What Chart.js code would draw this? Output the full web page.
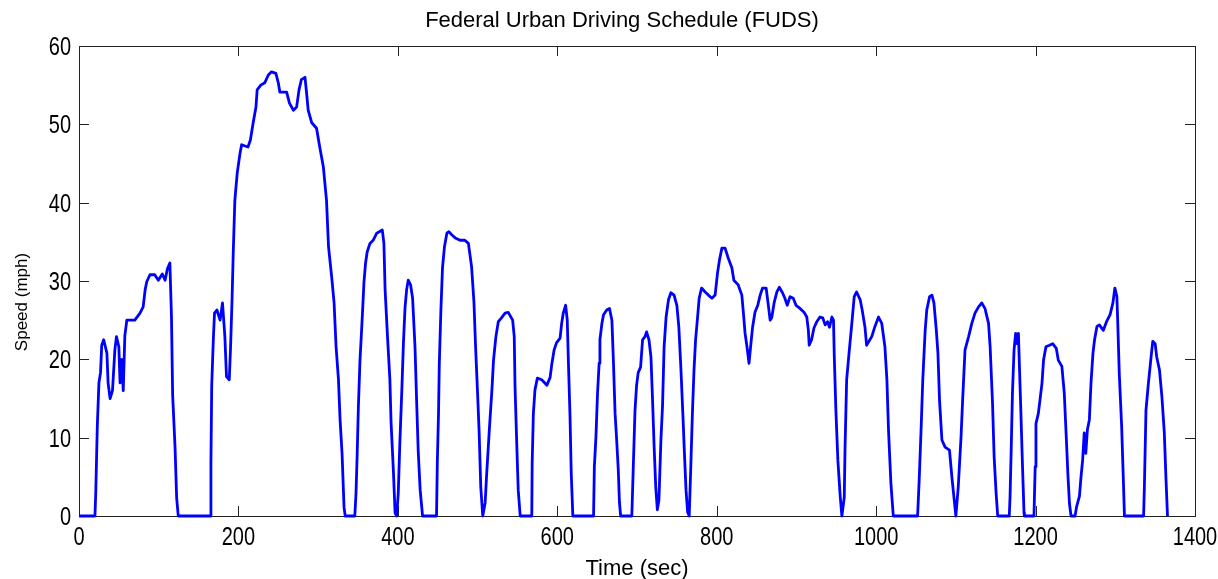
<!DOCTYPE html>
<html>
<head>
<meta charset="utf-8">
<title>FUDS</title>
<script src="https://cdn.jsdelivr.net/npm/chart.js@4.4.1/dist/chart.umd.min.js"></script>
<style>
  html, body { margin: 0; padding: 0; background: #fff; }
  #fuds { display: block; }
</style>
</head>
<body>
<canvas id="fuds" width="1218" height="579"></canvas>
<script>
// speed trace (seconds, mph)
const timeSec = [
  0, 20, 21, 23, 25, 27, 28.5, 31, 35, 36.5, 39, 42, 45, 47, 50, 51.5, 53.5, 55.5, 57.5, 60,
  70, 76.5, 80.5, 83, 85, 89, 95, 99.5, 104.5, 108, 111, 114, 116, 117.5, 120.5, 122.5, 124.5,
  164.5, 165.5, 166.5, 168.5, 170, 173, 177, 180, 183, 185, 188.5, 190, 192, 193.5, 195.5, 198.5,
  202, 204, 212, 215, 218.5, 222, 223.5, 228, 233, 237.5, 241.5, 247, 250, 252, 260.5, 264, 269,
  273, 276, 279, 283.5, 285.5, 287.5, 292, 298, 302, 306.5, 310.5, 313, 317, 320, 322.5, 325.5,
  327.5, 330, 332.5, 334,
  346, 347.5, 349, 350.5, 352.5, 354.5, 356, 357.5, 359.5, 361.5, 365, 369, 373.5, 380.5, 382.5,
  384, 387, 390, 391.5, 394.5, 396.5, 398.5, 400.5, 402.5, 405, 407, 409, 411, 413, 416, 418.5,
  421.5, 423.5, 425.5, 428, 431,
  448.5, 449.5, 451, 452, 454, 456, 458.5, 461.5, 464, 467.5, 472, 478, 484, 488.5, 492.5, 495.5,
  497.5, 500, 502, 504, 506.5, 509.5, 511.5, 515, 518, 520, 523, 526, 530, 534.5, 538.5, 544,
  546, 547, 549, 551, 553.5,
  568, 568.5, 570, 572, 575, 580.5, 587, 591, 593, 596, 599, 603.5, 605.5, 607.5, 610.5, 612.5,
  614, 616, 617.5, 619.5,
  645.5, 646.5, 648.5, 650.5, 652.5, 653.5, 656, 658, 662, 665.5, 668.5, 670.5, 672.5, 674.5,
  676.5, 678, 679.5,
  693.5, 695.5, 697.5, 699.5, 701.5, 704.5, 707, 710, 712, 715, 717.5, 719.5, 721.5, 723.5, 725.5,
  727.5, 730, 732, 734, 736.5, 739.5, 742.5, 746.5, 750, 752.5, 755, 757.5, 759.5, 761.5, 763.5,
  765.5, 767.5, 769.5, 771.5, 773.5, 776, 778, 781, 785.5, 789.5, 794, 798, 801, 803.5, 806.5,
  810.5, 814.5, 819, 821.5, 827, 831.5, 833.5, 835.5, 838.5, 840.5, 842.5, 845, 848, 851.5, 854.5,
  857.5, 862, 865, 867, 869, 872, 875.5, 878.5, 882.5, 885.5, 888.5, 892, 896, 899.5, 904.5, 909.5,
  913, 915, 916, 919, 922, 925.5, 929.5, 933, 936, 939, 941.5, 944.5, 946.5, 947.5, 949.5, 952,
  955, 957, 960, 961, 963, 966, 969.5, 972.5, 975.5, 980, 982.5, 986, 988, 994.5, 998.5, 1003,
  1007, 1011, 1013.5, 1015.5, 1018.5, 1021.5,
  1052, 1054, 1056.5, 1058.5, 1061.5, 1063.5, 1067, 1070, 1072.5, 1075.5, 1077.5, 1079.5, 1082.5,
  1086.5, 1092, 1095, 1098, 1100, 1103, 1106.5, 1108.5, 1111.5, 1116, 1120, 1124, 1128.5, 1132.5,
  1136.5, 1141, 1143, 1146, 1148, 1150.5, 1152.5,
  1167, 1168, 1169.5, 1171, 1173, 1175, 1177, 1178.5, 1179.5, 1181.5, 1183.5, 1185.5, 1186,
  1198, 1199.5, 1200.5, 1203.5, 1208, 1210, 1213, 1217.5, 1221.5, 1226, 1228.5, 1233, 1236,
  1238.5, 1240.5, 1242.5, 1244.5,
  1249.5, 1251.5, 1255, 1257, 1259, 1261, 1263, 1265, 1267.5, 1269.5, 1272, 1274, 1277, 1280,
  1285, 1289, 1293.5, 1297, 1299.5, 1302, 1303, 1305, 1308, 1310, 1311.5,
  1335.5, 1336.5, 1338.5, 1341.5, 1344.5, 1347, 1350, 1352, 1355.5, 1358.5, 1361.5, 1363.5, 1365.5
];

const speedMph = [
  0, 0, 2.9, 11.6, 17, 18.3, 21.8, 22.5, 20.8, 17, 15, 16, 21.2, 22.9, 21.6, 17, 20, 16, 23, 25,
  25, 25.9, 26.7, 28.9, 29.9, 30.8, 30.8, 30.1, 30.9, 30.1, 31.6, 32.3, 25.4, 15.4, 8.7, 2.3, 0,
  0, 6.8, 16.7, 22.5, 25.9, 26.3, 25, 27.2, 22.9, 17.8, 17.4, 21.2, 27.6, 33.6, 40.3, 43.8,
  46.3, 47.4, 47.1, 48, 50.2, 52.2, 54.4, 55, 55.3, 56.3, 56.7, 56.5, 55.3, 54.1, 54.1, 52.7, 51.8,
  52.2, 54.4, 55.7, 56, 54, 51.8, 50.2, 49.5, 47.1, 44.6, 40.3, 34.4, 30.5, 27.2, 21.6, 17.4,
  12.3, 8, 1.1, 0,
  0, 2.9, 8, 14, 19.9, 23.7, 26.7, 29.9, 32.3, 33.7, 34.8, 35.2, 36.1, 36.5, 34.8,
  28.9, 22.9, 17.4, 11.9, 5.5, 0.4, 0, 2.9, 9.3, 16.1, 22.1, 26.6, 28.9, 30.1, 29.5, 27.8,
  21.6, 14.8, 8.4, 3.3, 0,
  0, 6.8, 13.1, 19.5, 26.3, 31.7, 34.4, 36.1, 36.3, 35.9, 35.5, 35.2, 35.2, 34.8, 31.8, 27.2,
  21.6, 15.7, 10.6, 3.7, 0, 1.7, 5.5, 11.4, 16.1, 19.9, 22.9, 24.8, 25.3, 25.9, 26, 25,
  22.9, 16.5, 9.7, 3.3, 0,
  0, 6.8, 13.1, 16.1, 17.6, 17.4, 16.7, 17.7, 19.3, 21.2, 22.1, 22.7, 24.6, 25.9, 26.9, 25,
  19.5, 12.6, 5.5, 0,
  0, 6.3, 10.1, 15.7, 19.5, 22.5, 24.6, 25.7, 26.3, 26.5, 25, 19.5, 13.1, 9.7,
  5.9, 1.7, 0,
  0, 6.8, 13.5, 16.7, 18.3, 19, 22.5, 22.9, 23.5, 22.5, 20.3, 14.8, 8.8, 3.7, 0.8,
  2, 9.7, 14, 21.6, 25.4, 27.6, 28.5, 28.2, 26.9, 24.1, 19, 13.1, 8, 3.3, 0.5,
  0, 6.3, 13.1, 18.6, 22.5, 25.4, 27.8, 29.1, 28.6, 28.2, 27.8, 28.2, 31, 32.7, 34.2,
  34.2, 32.9, 31.7, 30.1, 29.5, 28.2, 25.9, 23.4, 21.2, 19.5, 21.6, 24.1, 26, 26.9, 28.2,
  29.1, 29.1, 26.7, 25, 25.3, 27.2, 28.6, 29.2, 28.5, 27.8, 26.9, 28, 27.8, 26.9, 26.5, 26,
  25.4, 23.7, 21.8, 22.5, 24, 24.8, 25.4, 25.3, 24.4, 24.8, 24.1, 25.4, 25, 20.3, 13.5, 7.1,
  2.4, 0, 2.4, 8.8, 17.4, 20.8, 24.6, 28, 28.6, 27.6, 26.3, 24.1, 21.8, 22.9, 24.2, 25.4,
  24.6, 21.6, 17.4, 11, 4.2, 0,
  0, 4.6, 11.4, 17.4, 23.7, 26.3, 28, 28.2, 27.2, 23.7, 20.8, 14.8, 9.7,
  8.8, 8.4, 5, 2, 0, 3.7, 10.1, 14.8, 21.2, 22.9, 24.6, 25.9, 26.7, 27.2,
  26.5, 24.6, 21.6, 14.4, 7.6, 2.9, 0,
  0, 2.5, 8.8, 15.7, 21.2, 23.3, 22, 23.3, 19.9, 13.5, 6.7, 0.4, 0,
  0, 6.3, 11.8, 13.1, 16.9, 19.9, 21.6, 21.8, 22, 21.4, 19.9, 19.1, 15.7,
  10.1, 5.4, 1.6, 0,
  0, 1.2, 2.5, 5, 7.1, 10.6, 8, 11, 12.3, 16.9, 20.8, 22.5, 24.2, 24.4,
  23.7, 24.8, 25.7, 27.2, 29.1, 28, 25, 18.2, 11.4, 5, 0,
  0, 3.7, 13.5, 16.9, 19.9, 22.3, 22, 20.3, 18.6, 15.2, 10.6, 5, 0
];

const xTickValues = [0, 200, 400, 600, 800, 1000, 1200, 1400];
const yTickValues = [0, 10, 20, 30, 40, 50, 60];

const chartTitle = "Federal Urban Driving Schedule (FUDS)";
const xLabel = "Time (sec)";
const yLabel = "Speed (mph)";

const fontFamily = '"Liberation Sans", Arial, sans-serif';
Chart.defaults.font.family = fontFamily;
Chart.defaults.color = "#000";

// tick digits in the original are taller than they are wide, so stretch them a bit
const TICK_STRETCH = 1.25;

function drawStretched(ctx, text, x, baseline, align) {
  ctx.save();
  ctx.translate(x, baseline);
  ctx.scale(1, TICK_STRETCH);
  ctx.textAlign = align;
  ctx.textBaseline = "alphabetic";
  ctx.fillText(text, 0, 0);
  ctx.restore();
}

// matlab style box with inward tick marks on all four sides, plus title and labels
const boxPlugin = {
  id: "matlabBox",
  beforeDatasetsDraw(chart) {
    const { ctx, chartArea: area, scales } = chart;
    const tickLen = 10;
    ctx.save();
    ctx.strokeStyle = "#222";
    ctx.lineWidth = 1;
    ctx.strokeRect(area.left + 0.5, area.top + 0.5, area.right - area.left, area.bottom - area.top);
    ctx.beginPath();
    scales.x.ticks.forEach((tick) => {
      const px = Math.round(scales.x.getPixelForValue(tick.value)) + 0.5;
      ctx.moveTo(px, area.bottom);
      ctx.lineTo(px, area.bottom - tickLen);
      ctx.moveTo(px, area.top);
      ctx.lineTo(px, area.top + tickLen);
    });
    scales.y.ticks.forEach((tick) => {
      const py = Math.round(scales.y.getPixelForValue(tick.value)) + 0.5;
      ctx.moveTo(area.left, py);
      ctx.lineTo(area.left + tickLen, py);
      ctx.moveTo(area.right, py);
      ctx.lineTo(area.right - tickLen, py);
    });
    ctx.stroke();
    ctx.restore();
  },
  afterDraw(chart) {
    const { ctx, chartArea: area, scales } = chart;
    ctx.save();
    ctx.fillStyle = "#000";
    ctx.font = "20px " + fontFamily;
    scales.x.ticks.forEach((tick) => {
      drawStretched(ctx, String(tick.value), scales.x.getPixelForValue(tick.value), area.bottom + 29, "center");
    });
    scales.y.ticks.forEach((tick) => {
      drawStretched(ctx, String(tick.value), area.left - 8, scales.y.getPixelForValue(tick.value) + 9, "right");
    });

    ctx.textAlign = "center";
    ctx.textBaseline = "middle";
    ctx.font = "22px " + fontFamily;
    ctx.fillText(chartTitle, 622, 21);
    ctx.translate(22, 302);
    ctx.rotate(-Math.PI / 2);
    ctx.font = "17px " + fontFamily;
    ctx.fillText(yLabel, 0, 0);
    ctx.restore();
  }
};

const points = timeSec.map((t, i) => ({ x: t, y: speedMph[i] }));

new Chart(document.getElementById("fuds"), {
  type: "line",
  data: {
    datasets: [
      {
        data: points,
        borderColor: "#0000ff",
        borderWidth: 2.8,
        borderJoinStyle: "round",
        pointRadius: 0,
        tension: 0,
        fill: false,
        clip: false
      }
    ]
  },
  options: {
    responsive: false,
    animation: false,
    layout: { padding: { left: 0, right: 23, top: 46, bottom: 0 } },
    plugins: {
      legend: { display: false },
      tooltip: { enabled: false },
      title: { display: false }
    },
    scales: {
      x: {
        type: "linear",
        min: 0,
        max: 1400,
        afterBuildTicks(scale) {
          scale.ticks = xTickValues.map((v) => ({ value: v }));
        },
        afterFit(scale) {
          scale.height = 63;
          scale.paddingLeft = 0;
          scale.paddingRight = 0;
        },
        grid: { display: false, drawTicks: false },
        border: { display: false },
        ticks: { display: false },
        title: {
          display: true,
          text: xLabel,
          color: "#000",
          font: { size: 22, lineHeight: 1 },
          padding: { top: 0, bottom: -1 }
        }
      },
      y: {
        type: "linear",
        min: 0,
        max: 60,
        afterBuildTicks(scale) {
          scale.ticks = yTickValues.map((v) => ({ value: v }));
        },
        afterFit(scale) {
          scale.width = 79;
          scale.paddingTop = 0;
          scale.paddingBottom = 0;
        },
        grid: { display: false, drawTicks: false },
        border: { display: false },
        ticks: { display: false }
      }
    }
  },
  plugins: [boxPlugin]
});
</script>
</body>
</html>
